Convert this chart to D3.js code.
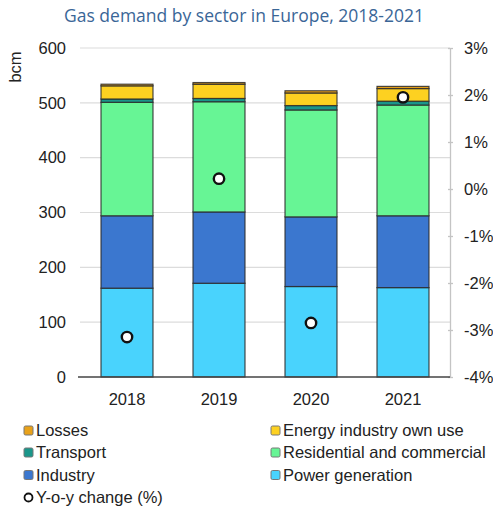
<!DOCTYPE html>
<html>
<head>
<meta charset="utf-8">
<script src="https://cdn.jsdelivr.net/npm/d3@7"></script>
<style>
  html, body { margin: 0; padding: 0; background: #fff; }
  svg { display: block; }
  text { font-family: "Liberation Sans", Arial, sans-serif; fill: #222; }
</style>
</head>
<body>
<svg id="chart" width="493" height="506"></svg>
<script>
// ---- Data ----
const years = ["2018", "2019", "2020", "2021"];
const powerGeneration = [162, 171, 165, 163];
const industry = [132, 130, 127, 131];
const residentialCommercial = [207, 201, 195, 202];
const transport = [6, 6, 8, 7];
const energyOwnUse = [24, 26, 23, 23];
const losses = [3, 3, 4, 4];
const yoyChange = [-3.15, 0.22, -2.85, 1.95];
const leftTicks = [0, 100, 200, 300, 400, 500, 600];
const rightTicks = [-4, -3, -2, -1, 0, 1, 2, 3];

const seriesNames = ["Power generation", "Industry", "Residential and commercial", "Transport", "Energy industry own use", "Losses"];
const seriesValues = [powerGeneration, industry, residentialCommercial, transport, energyOwnUse, losses];
const colors = ["#49D3FD", "#3B77CF", "#67F595", "#1A968A", "#FDD121", "#E9A21A"];

// ---- Layout ----
const svg = d3.select("#chart");
const plotLeft = 80, plotRight = 450, plotTop = 48, plotBottom = 377;

const x = d3.scaleBand().domain(years).range([81, 449]).paddingInner(0.435).paddingOuter(0.2175);
const y = d3.scaleLinear().domain([0, 600]).range([plotBottom, plotTop]);
const y2 = d3.scaleLinear().domain([-4, 3]).range([plotBottom, plotTop]);

// title
svg.append("text").attr("x", 244).attr("y", 21.5).attr("text-anchor", "middle")
  .style("font-family", "'Open Sans', sans-serif").style("font-size", "17.5px")
  .style("fill", "#3A6697").text("Gas demand by sector in Europe, 2018-2021");

// gridlines
svg.append("g").selectAll("line").data(leftTicks.filter(d => d !== 0)).join("line")
  .attr("x1", plotLeft).attr("x2", plotRight)
  .attr("y1", d => y(d)).attr("y2", d => y(d))
  .attr("stroke", "#dcdcdc").attr("stroke-width", 1.2);

// left axis labels
const leftAxis = d3.axisLeft(y).tickValues(leftTicks).tickSize(0).tickPadding(14);
const gl = svg.append("g").attr("transform", `translate(${plotLeft},0)`).call(leftAxis);
gl.select(".domain").remove();
gl.selectAll("text").style("font-size", "16.5px").style("fill", "#222")
  .style("font-family", "'Liberation Sans', Arial, sans-serif");

// bcm label
svg.append("text").attr("transform", "translate(21,67) rotate(-90)")
  .attr("text-anchor", "middle").style("font-size", "16.5px").text("bcm");

// right axis
const rightAxis = d3.axisRight(y2).tickValues(rightTicks).tickSize(0).tickPadding(14)
  .tickFormat(d => d + "%");
const gr = svg.append("g").attr("transform", `translate(${plotRight},0)`).call(rightAxis);
gr.select(".domain").attr("stroke", "#c4c4c4").attr("stroke-width", 1.3);
gr.selectAll("text").style("font-size", "16.5px").style("fill", "#222")
  .style("font-family", "'Liberation Sans', Arial, sans-serif");
gr.selectAll(".tick").append("line").attr("x1", -2).attr("x2", 3).attr("stroke", "#c4c4c4").attr("stroke-width", 1.3);

// stacked bars
const rows = years.map((yr, i) => {
  const o = { year: yr };
  seriesNames.forEach((s, j) => o[s] = seriesValues[j][i]);
  return o;
});
const stacked = d3.stack().keys(seriesNames)(rows);
svg.append("g").selectAll("g").data(stacked).join("g")
  .attr("fill", (d, i) => colors[i])
  .selectAll("rect").data(d => d).join("rect")
  .attr("x", d => x(d.data.year))
  .attr("width", x.bandwidth())
  .attr("y", d => y(d[1]))
  .attr("height", d => y(d[0]) - y(d[1]))
  .attr("stroke", "#2a2a2a").attr("stroke-width", 1.2).attr("stroke-opacity", 0.85);

// baseline
svg.append("line").attr("x1", plotLeft - 2).attr("x2", plotRight)
  .attr("y1", y(0)).attr("y2", y(0)).attr("stroke", "#444").attr("stroke-width", 1.5);

// x labels
svg.append("g").selectAll("text").data(years).join("text")
  .attr("x", d => x(d) + x.bandwidth() / 2).attr("y", 405)
  .attr("text-anchor", "middle").style("font-size", "16.5px").text(d => d);

// yoy dots
svg.append("g").selectAll("circle").data(years).join("circle")
  .attr("cx", d => x(d) + x.bandwidth() / 2)
  .attr("cy", (d, i) => y2(yoyChange[i]))
  .attr("r", 5.2).attr("fill", "#fff").attr("stroke", "#111").attr("stroke-width", 2.4);

// legend
const legendItems = [
  { name: "Losses", color: colors[5], col: 0, row: 0 },
  { name: "Energy industry own use", color: colors[4], col: 1, row: 0 },
  { name: "Transport", color: colors[3], col: 0, row: 1 },
  { name: "Residential and commercial", color: colors[2], col: 1, row: 1 },
  { name: "Industry", color: colors[1], col: 0, row: 2 },
  { name: "Power generation", color: colors[0], col: 1, row: 2 }
];
const colX = [24, 271];
const rowY = [430.5, 452.5, 475, 497.5];
const lg = svg.append("g");
legendItems.forEach(it => {
  lg.append("rect").attr("x", colX[it.col]).attr("y", rowY[it.row] - 4.5)
    .attr("width", 9).attr("height", 9).attr("rx", 1.5)
    .attr("fill", it.color).attr("stroke", "#777").attr("stroke-width", 1);
  lg.append("text").attr("x", colX[it.col] + 12).attr("y", rowY[it.row])
    .attr("dy", "0.35em").style("font-size", "16.5px").text(it.name);
});
lg.append("circle").attr("cx", 28.5).attr("cy", rowY[3]).attr("r", 4)
  .attr("fill", "#fff").attr("stroke", "#111").attr("stroke-width", 1.8);
lg.append("text").attr("x", 36).attr("y", rowY[3]).attr("dy", "0.35em")
  .style("font-size", "16.5px").text("Y-o-y change (%)");
</script>
</body>
</html>
